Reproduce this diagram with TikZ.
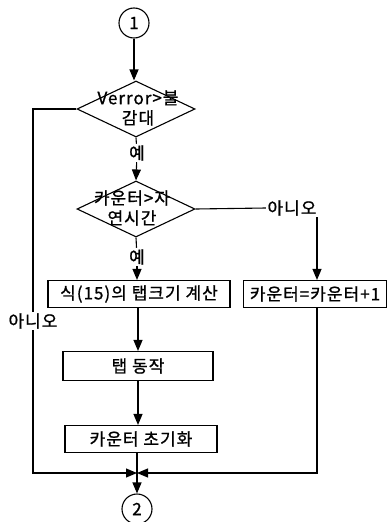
\documentclass[tikz,border=0pt]{standalone}
\usepackage{fontspec}
\setmainfont{Noto Sans CJK KR}[LetterSpace=6, FakeBold=1]
\usetikzlibrary{arrows.meta,shapes.geometric}
\begin{document}
\begin{tikzpicture}[x=1pt, y=-1pt, line width=1.1pt,
	arr/.style={-{Triangle[length=11pt,width=9pt]}},
	box/.style={draw, inner sep=0pt},
	decision/.style={draw, diamond, minimum width=118pt, minimum height=56pt, inner sep=0pt},
	conn/.style={draw, circle, minimum size=30pt, inner sep=0pt},
	txt/.style={font=\fontsize{17}{20}\selectfont}]
	\useasboundingbox (0,0) rectangle (388,522);
	% connectors and decisions
	\node[conn, txt] (c1) at (134,23) {1};
	\node[decision] (d1) at (136,109) {};
	\node[txt, align=center] (d1t) at (138,108) {Verror>불\\감대};
	\node[txt, fill=white, inner sep=1pt] (yes1) at (137,153) {예};
	\node[decision] (d2) at (136,209) {};
	\node[txt, align=center] (d2t) at (132,208) {카운터>자\\연시간};
	\node[txt, fill=white, inner sep=1pt] (yes2) at (137,257) {예};
	\node[txt, anchor=east, inner sep=1pt] (no2) at (318,208) {아니오};
	\node[txt, fill=white, inner sep=1pt] (no1) at (33,321) {아니오};
	% boxes
	\node[box, txt, minimum width=182pt, minimum height=27pt] (b1) at (139,294) {식(15)의 탭크기 계산};
	\node[box, txt, minimum width=143pt, minimum height=27pt] (b2) at (315,294) {카운터=카운터+1};
	\node[box, txt, minimum width=150pt, minimum height=29pt] (b3) at (138,366) {탭 동작};
	\node[box, txt, minimum width=152pt, minimum height=27pt] (b4) at (141,439) {카운터 초기화};
	\coordinate (join) at (137,473);
	\node[conn, txt] (c2) at (137,509) {2};
	% flow lines
	\draw[arr] (c1) -- (c1 |- d1.north);
	\draw (d1.south) -- (yes1);
	\draw[arr] (yes1) -- (d2.north);
	\draw (d2.south) -- (yes2);
	\draw[arr] (yes2) -- (yes2 |- b1.north);
	\draw[arr] (b1.south -| b3) -- (b3.north -| b3);
	\draw[arr] (b3) -- (b3 |- b4.north);
	\draw (b4.south -| join) -- (join);
	\draw[arr] (join) -- (c2);
	\draw (d2.east) -- (no2.west);
	\draw[arr] (no2.south east) ++(-1,0) coordinate (c3) -- (c3 |- b2.north);
	\draw[arr] (c3 |- b2.south) -- (c3 |- join) -- (join);
	\draw (d1.west) -| (no1.north);
	\draw[arr] (no1.south) |- (join);
\end{tikzpicture}
\end{document}
